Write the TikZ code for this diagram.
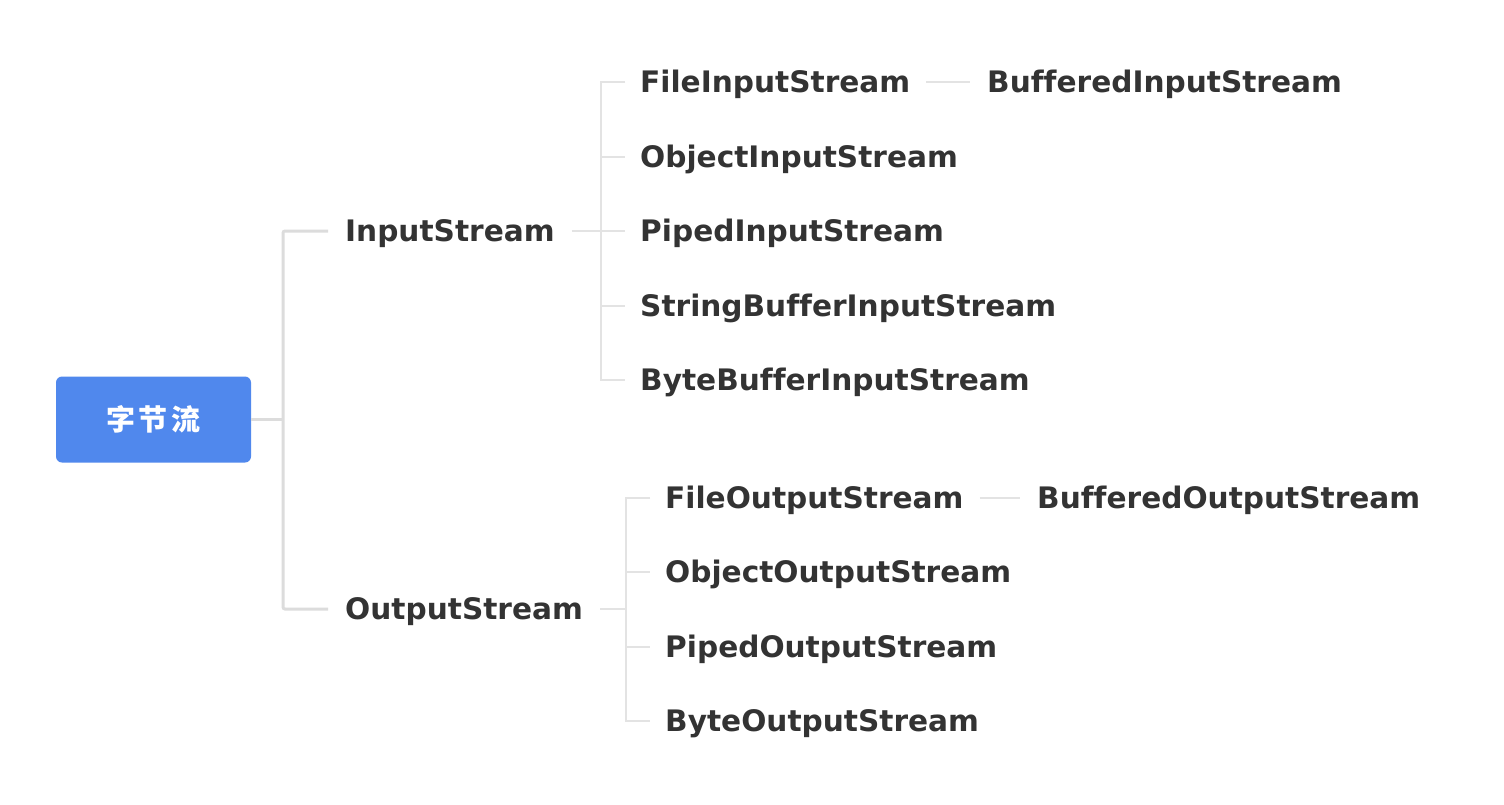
\documentclass[tikz,border=0pt]{standalone}
\usepackage{fontspec}
\setmainfont[Ligatures={NoCommon}]{DejaVu Sans}
\newfontfamily\cjk{Noto Sans CJK SC}
\begin{document}
\begin{tikzpicture}[x=1pt,y=-1pt,
  lbl/.style={font=\fontsize{29.6}{32}\selectfont\bfseries, text=textgray, inner sep=0pt, text height=21.5pt, text depth=0pt, anchor=west},
  trunk/.style={draw=linegray, line width=3pt},
  twig/.style={draw=linegray2, line width=1.5pt}]
\definecolor{textgray}{HTML}{333333}
\definecolor{linegray}{HTML}{DCDCDC}
\definecolor{linegray2}{HTML}{E3E3E3}
\definecolor{rootblue}{HTML}{5088ED}
\useasboundingbox[fill=white] (0,0) rectangle (1504,804);
% root
\node[fill=rootblue, rounded corners=6pt, minimum width=195pt, minimum height=86pt, inner sep=0pt,
      text=white, font=\cjk\fontsize{29}{32}\selectfont\bfseries] (root) at (153.5,419.5) {字\hspace{4pt}节\hspace{4pt}流};
% level 1
\node[lbl] (in) at (345,231) {InputStream};
\node[lbl] (out) at (345,609) {OutputStream};
% input children
\node[lbl] (fis) at (640,82) {FileInputStream};
\node[lbl] (ois) at (640,157) {ObjectInputStream};
\node[lbl] (pis) at (640,231) {PipedInputStream};
\node[lbl] (sbis) at (640,306) {StringBufferInputStream};
\node[lbl] (bbis) at (640,380) {ByteBufferInputStream};
\node[lbl] (bis) at (987,82) {BufferedInputStream};
% output children
\node[lbl] (fos) at (665,498) {FileOutputStream};
\node[lbl] (oos) at (665,572) {ObjectOutputStream};
\node[lbl] (pos) at (665,647) {PipedOutputStream};
\node[lbl] (bos) at (665,721) {ByteOutputStream};
\node[lbl] (bfos) at (1037,498) {BufferedOutputStream};
% junctions
\coordinate (j0) at (283,419.5);
\coordinate (j1) at (601,231);
\coordinate (j2) at (626,609);
% connectors: root to level 1
\draw[trunk] (root.east) -- (j0);
\draw[trunk, rounded corners=2pt] ([xshift=-17pt]in.west) -| (j0) |- ([xshift=-17pt]out.west);
% InputStream subtree
\draw[twig] ([xshift=17pt]in.east) -- (j1);
\draw[twig] ([xshift=-15pt]fis.west) -- (j1 |- fis.west) -- (j1 |- bbis.west) -- ([xshift=-15pt]bbis.west);
\draw[twig] (j1 |- ois.west) -- ([xshift=-15pt]ois.west);
\draw[twig] (j1 |- pis.west) -- ([xshift=-15pt]pis.west);
\draw[twig] (j1 |- sbis.west) -- ([xshift=-15pt]sbis.west);
\draw[twig] ([xshift=16pt]fis.east) -- ([xshift=-17pt]bis.west);
% OutputStream subtree
\draw[twig] ([xshift=17pt]out.east) -- (j2);
\draw[twig] ([xshift=-15pt]fos.west) -- (j2 |- fos.west) -- (j2 |- bos.west) -- ([xshift=-15pt]bos.west);
\draw[twig] (j2 |- oos.west) -- ([xshift=-15pt]oos.west);
\draw[twig] (j2 |- pos.west) -- ([xshift=-15pt]pos.west);
\draw[twig] ([xshift=16pt]fos.east) -- ([xshift=-17pt]bfos.west);
\end{tikzpicture}
\end{document}
